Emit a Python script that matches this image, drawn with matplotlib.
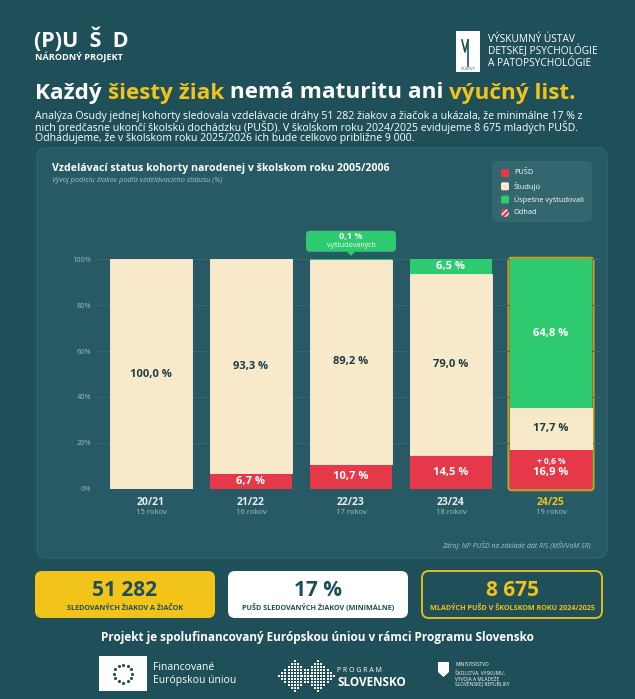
import numpy as np
import matplotlib
matplotlib.use("Agg")
import matplotlib.pyplot as plt
from matplotlib.patches import FancyBboxPatch, Rectangle, Polygon, Circle

plt.rcParams['font.family'] = ['Open Sans', 'DejaVu Sans']

# data
years = ['20/21', '21/22', '22/23', '23/24', '24/25']
ages = ['15 rokov', '16 rokov', '17 rokov', '18 rokov', '19 rokov']
pusd = [0.0, 6.7, 10.7, 14.5, 16.9]
odhad = [0.0, 0.0, 0.0, 0.0, 0.6]
studuju = [100.0, 93.3, 89.2, 79.0, 17.7]
uspesne = [0.0, 0.0, 0.1, 6.5, 64.8]
yticks = [0, 20, 40, 60, 80, 100]

cards = [('51 282', 'SLEDOVANÝCH ŽIAKOV A ŽIAČOK'),
         ('17 %', 'PUŠD SLEDOVANÝCH ŽIAKOV (MINIMÁLNE)'),
         ('8 675', 'MLADÝCH PUŠD V ŠKOLSKOM ROKU 2024/2025')]

BG = '#1f4f59'
PANEL = '#275a64'
RED = '#e53848'
BEIGE = '#f7e9c9'
GREEN = '#2ecb70'
GOLD = '#f2c318'
DARK = '#1d3d44'
GRID = '#356871'

fig = plt.figure(figsize=(6.35, 6.99), dpi=100)
fig.patch.set_facecolor(BG)

# pixel-coordinate canvas for the infographic decorations
bg = fig.add_axes([0, 0, 1, 1], zorder=0)
bg.set_xlim(0, 635)
bg.set_ylim(699, 0)
bg.axis('off')

# header
bg.text(34, 40, '(P)U  Š  D', color='white', fontsize=15.5, fontweight='bold', va='center')
bg.text(35, 57, 'NÁRODNÝ PROJEKT', color='white', fontsize=6.6, fontweight='bold', va='center')
bg.add_patch(Rectangle((456, 31), 24, 41, facecolor='white', edgecolor='none'))
bg.plot([462, 465, 468], [40, 52, 40], color=BG, lw=1.2)
bg.plot([468, 468], [40, 66], color=BG, lw=1.2)
bg.text(468, 69, 'VÚDPaP', color=BG, fontsize=2.5, ha='center', va='center')
for i, s in enumerate(['VÝSKUMNÝ ÚSTAV', 'DETSKEJ PSYCHOLÓGIE', 'A PATOPSYCHOLÓGIE']):
    bg.text(488, 39 + i * 12, s, color='white', fontsize=7.3, va='center')

# title with coloured words
renderer = fig.canvas.get_renderer()
parts = [('Každý ', 'white'), ('šiesty žiak', GOLD), (' nemá maturitu ani ', 'white'), ('výučný list.', GOLD)]
prefix = ''
for s, c in parts:
    if prefix:
        tmp = bg.text(0, 0, prefix.replace(' ', '\u00a0'), fontsize=16.2, fontweight='bold')
        w = tmp.get_window_extent(renderer=renderer).width
        tmp.remove()
    else:
        w = 0
    bg.text(35 + w, 93, s.replace(' ', '\u00a0'), color=c, fontsize=16.2, fontweight='bold', va='center')
    prefix += s

para = ['Analýza Osudy jednej kohorty sledovala vzdelávacie dráhy 51 282 žiakov a žiačok a ukázala, že minimálne 17 % z',
        'nich predčasne ukončí školskú dochádzku (PUŠD). V školskom roku 2024/2025 evidujeme 8 675 mladých PUŠD.',
        'Odhadujeme, že v školskom roku 2025/2026 ich bude celkovo približne 9 000.']
for i, s in enumerate(para):
    bg.text(35, 116 + i * 11.5, s, color='white', fontsize=7.55, va='center')

# chart panel
bg.add_patch(FancyBboxPatch((37, 148), 570, 410, boxstyle='round,pad=0,rounding_size=9',
                            facecolor=PANEL, edgecolor='#336670', lw=0.8))
bg.text(52, 168, 'Vzdelávací status kohorty narodenej v školskom roku 2005/2006',
        color='white', fontsize=7.6, fontweight='bold', va='center')
bg.text(52, 181, 'Vývoj podielu žiakov podľa vzdelávacieho statusu (%)',
        color='#a9c0c4', fontsize=5.3, style='italic', va='center')
bg.text(591, 546, 'Zdroj: NP PUŠD na základe dát RIS (MŠVVaM SR)',
        color='#a9c0c4', fontsize=5, style='italic', ha='right', va='center')

# legend
bg.add_patch(FancyBboxPatch((492, 161), 100, 61, boxstyle='round,pad=0,rounding_size=5',
                            facecolor='#33666f', edgecolor='none'))
leg = [('PUŠD', RED), ('Študujú', BEIGE), ('Úspešne vyštudovali', GREEN), ('Odhad', RED)]
for i, (s, c) in enumerate(leg):
    y = 173 + i * 13.3
    if s == 'Odhad':
        bg.add_patch(Circle((505, y), 4, facecolor=c, edgecolor='white', hatch='//////', lw=0))
    else:
        bg.add_patch(FancyBboxPatch((501, y - 4), 8, 8, boxstyle='round,pad=0,rounding_size=1.5',
                                    facecolor=c, edgecolor='none'))
    bg.text(514, y, s, color='white', fontsize=5.3, va='center')

# chart axes
ax = fig.add_axes([97 / 635, 1 - 488.7 / 699, 503 / 635, 229.4 / 699], zorder=2)
ax.patch.set_alpha(0)
ax.set_xlim(-0.54, 4.49)
ax.set_ylim(0, 100)
x = np.arange(len(years))
w = 0.82
b1 = np.array(pusd)
b2 = b1 + np.array(odhad)
b3 = b2 + np.array(studuju)
ax.bar(x, pusd, w, color=RED, zorder=3)
ax.bar(x, odhad, w, bottom=b1, color=RED, edgecolor='white', hatch='//////', lw=0, zorder=3)
ax.bar(x, studuju, w, bottom=b2, color=BEIGE, edgecolor='#fbf3e2', lw=0.6, zorder=3)
ax.bar(x, uspesne, w, bottom=b3, color=GREEN, zorder=3)

ax.set_yticks(yticks)
ax.set_yticklabels([f'{t}%' for t in yticks], color='#9fb8bc', fontsize=5.3)
ax.tick_params(axis='y', length=0, pad=4)
ax.set_xticks([])
ax.grid(axis='y', color=GRID, lw=0.7, zorder=0)
for sp in ax.spines.values():
    sp.set_visible(False)

def fmt(v):
    return f'{v:.1f}'.replace('.', ',') + ' %'

for i in x:
    if pusd[i] > 0:
        if odhad[i] > 0:
            ax.text(i, pusd[i] / 2 - 1.2, fmt(pusd[i]), color='white', fontsize=8, fontweight='bold',
                    ha='center', va='center', zorder=5)
            ax.text(i, pusd[i] / 2 + 3.6, '+ ' + fmt(odhad[i]), color='white', fontsize=6,
                    fontweight='bold', ha='center', va='center', zorder=5)
        else:
            ax.text(i, pusd[i] / 2, fmt(pusd[i]), color='white', fontsize=8, fontweight='bold',
                    ha='center', va='center', zorder=5)
    ax.text(i, b2[i] + studuju[i] / 2, fmt(studuju[i]), color=DARK, fontsize=8, fontweight='bold',
            ha='center', va='center', zorder=5)
    if uspesne[i] >= 1:
        ax.text(i, b3[i] + uspesne[i] / 2, fmt(uspesne[i]), color='white', fontsize=8,
                fontweight='bold', ha='center', va='center', zorder=5)
    ax.text(i, -5.8, years[i], color=GOLD if i == len(x) - 1 else '#e6eef0', fontsize=7.5,
            fontweight='bold', ha='center', va='center', clip_on=False)
    ax.text(i, -10.3, ages[i], color='#a9c0c4', fontsize=5.5, ha='center', va='center', clip_on=False)

# convert data coords to pixel canvas
def to_px(xd, yd):
    return bg.transData.inverted().transform(ax.transData.transform((xd, yd)))

# highlight on the last bar
l, t = to_px(x[-1] - w / 2, 100)
r, btm = to_px(x[-1] + w / 2, 0)
bg.add_patch(FancyBboxPatch((l - 1.5, t - 1.5), r - l + 3, btm - t + 3, boxstyle='round,pad=0,rounding_size=3',
                            facecolor='none', edgecolor='#c9a21d', lw=1.5, zorder=5))

# callout for 0.1 % graduates
cx, cy = to_px(2, 100)
bg.add_patch(FancyBboxPatch((cx - 45, cy - 28.5), 90, 21, boxstyle='round,pad=0,rounding_size=4',
                            facecolor=GREEN, edgecolor='none'))
bg.add_patch(Polygon([[cx - 4, cy - 7.6], [cx + 4, cy - 7.6], [cx, cy - 3.5]], facecolor=GREEN, edgecolor='none'))
bg.text(cx, cy - 22.5, fmt(uspesne[2]), color='white', fontsize=6.5, fontweight='bold', ha='center', va='center')
bg.text(cx, cy - 13.5, 'vyštudovaných', color='white', fontsize=5, ha='center', va='center')

# bottom cards
card_x = [35, 228, 422]
card_style = [(GOLD, 'none', '#1f4f59'), ('white', 'none', '#1f4f59'), ('none', GOLD, GOLD)]
for (big, small), cxp, (fc, ec, tc) in zip(cards, card_x, card_style):
    bg.add_patch(FancyBboxPatch((cxp, 571), 180, 47, boxstyle='round,pad=0,rounding_size=7',
                                facecolor=fc, edgecolor=ec, lw=1.3))
    bg.text(cxp + 90, 590, big, color=tc, fontsize=15, fontweight='bold', ha='center', va='center')
    bg.text(cxp + 90, 608, small, color=tc, fontsize=5.2, fontweight='bold', ha='center', va='center')

# footer
bg.text(317, 638, 'Projekt je spolufinancovaný Európskou úniou v rámci Programu Slovensko',
        color='white', fontsize=8.5, fontweight='bold', ha='center', va='center')
bg.add_patch(Rectangle((99, 656), 48, 35, facecolor='white', edgecolor='none'))
ang = np.linspace(0, 2 * np.pi, 13)[:-1]
bg.scatter(123 + 9 * np.cos(ang), 673.5 + 9 * np.sin(ang), s=2, color='#1f4f59', marker='*')
bg.text(153, 667, 'Financované', color='white', fontsize=7.5, va='center')
bg.text(153, 680, 'Európskou úniou', color='white', fontsize=7.5, va='center')

# program slovensko dot pattern
pts = []
for r_ in range(-5, 6):
    n = 5 - abs(r_)
    for c_ in range(-n, n + 1):
        pts.append((295 + c_ * 3.2, 676 + r_ * 3))
        pts.append((318 + c_ * 3.2, 676 + r_ * 3))
pts = np.array(pts)
bg.scatter(pts[:, 0], pts[:, 1], s=1.5, color='white', marker='s', lw=0)
bg.text(337, 670, 'P R O G R A M', color='white', fontsize=5, va='center')
bg.text(337, 683, 'SLOVENSKO', color='white', fontsize=8.5, fontweight='bold', va='center')

bg.add_patch(Polygon([[438, 662], [449, 662], [449, 672], [443.5, 677], [438, 672]],
                     facecolor='white', edgecolor='none'))
for i, s in enumerate(['MINISTERSTVO', 'ŠKOLSTVA, VÝSKUMU,', 'VÝVOJA A MLÁDEŽE', 'SLOVENSKEJ REPUBLIKY']):
    bg.text(455, 664 + i * 5.5 + (3 if i else 0), s, color='white', fontsize=3.5, va='center')

fig.savefig('out.png', dpi=100, facecolor=fig.get_facecolor())
